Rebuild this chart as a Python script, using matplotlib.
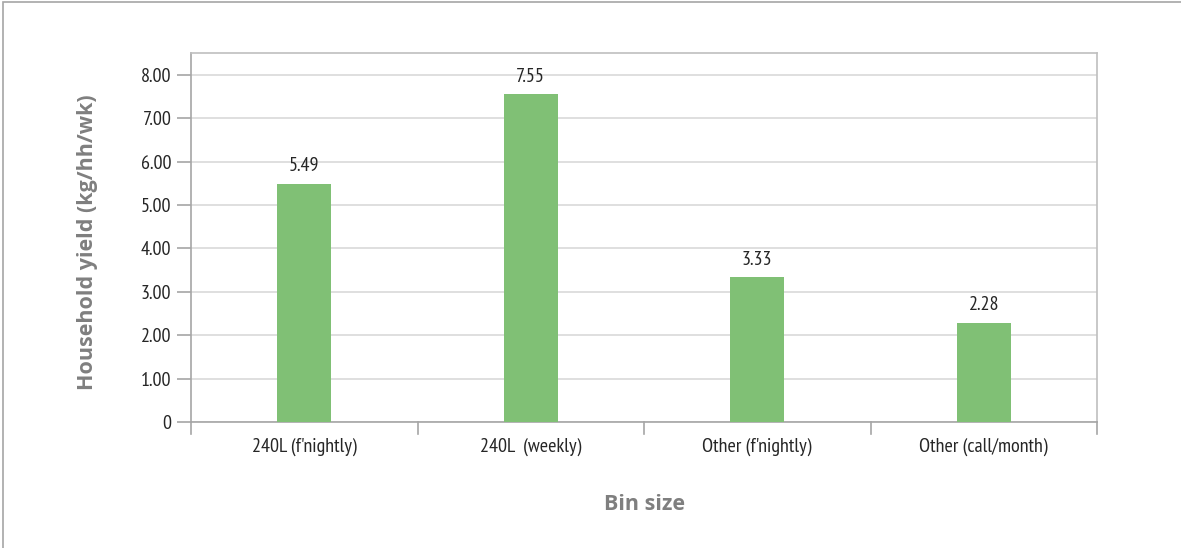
import matplotlib
matplotlib.use("Agg")
import matplotlib.pyplot as plt
from matplotlib import font_manager
from matplotlib.patches import Rectangle

categories = ["240L (f'nightly)", "240L  (weekly)", "Other (f'nightly)", "Other (call/month)"]
values = [5.49, 7.55, 3.33, 2.28]
yticks = [0, 1, 2, 3, 4, 5, 6, 7, 8]
yticklabels = ["0", "1.00", "2.00", "3.00", "4.00", "5.00", "6.00", "7.00", "8.00"]

names = {f.name for f in font_manager.fontManager.ttflist}
def pick(cands):
    for c in cands:
        if c in names:
            return c
    return "DejaVu Sans"
narrow = pick(["PT Sans Narrow", "Fira Sans Condensed", "Roboto Condensed", "Liberation Sans Narrow"])
boldf = pick(["Open Sans", "Noto Sans", "Lato"])
plt.rcParams['font.family'] = [narrow, 'DejaVu Sans']

W, H, dpi = 1181, 548, 100
fig = plt.figure(figsize=(W / dpi, H / dpi), dpi=dpi)
fig.patches.append(Rectangle((3 / W, -0.01), 1.2, 1 - 1.5 / H + 0.01, transform=fig.transFigure,
                             fill=False, edgecolor="#a6a6a6", linewidth=1.2))

left, right, top, bottom = 191, 1097, 53, 422
ax = fig.add_axes([left / W, 1 - bottom / H, (right - left) / W, (bottom - top) / H])
x = list(range(len(categories)))
ax.bar(x, values, width=0.24, color="#80c075", zorder=3)
for xi, v in zip(x, values):
    ax.text(xi, v + 0.2, f"{v:.2f}", ha="center", va="bottom", fontsize=14.5, color="#262626")

ax.set_xlim(-0.5, len(categories) - 0.5)
ax.set_ylim(0, 8.5)
ax.set_yticks(yticks)
ax.set_yticklabels(yticklabels, fontsize=14.5, color="#262626")
ax.set_xticks(x)
ax.set_xticklabels(categories, fontsize=14.5, color="#262626")
ax.tick_params(axis="x", length=0, pad=11)
ax.tick_params(axis="y", length=10, color="#a6a6a6", width=1.2, pad=4)
for b in [i - 0.5 for i in range(len(categories) + 1)]:
    ax.plot([b, b], [0, -0.27], color="#a6a6a6", lw=1.2, clip_on=False, zorder=4)
ax.yaxis.grid(True, color="#d9d9d9", linewidth=1.2, zorder=0)
for s in ax.spines.values():
    s.set_color("#a6a6a6")
    s.set_linewidth(1.2)
ax.spines["top"].set_color("#bfbfbf")
ax.spines["right"].set_color("#bfbfbf")

fig.text(88 / W, 1 - 242 / H, "Household yield (kg/hh/wk)", rotation=90, ha="center", va="center",
         fontsize=15.5, fontweight="bold", color="#7f7f7f", family=[boldf, 'DejaVu Sans'])
fig.text(644 / W, 1 - 504 / H, "Bin size", ha="center", va="center",
         fontsize=15.5, fontweight="bold", color="#7f7f7f", family=[boldf, 'DejaVu Sans'])

fig.savefig("out.png", dpi=dpi, facecolor="white")
